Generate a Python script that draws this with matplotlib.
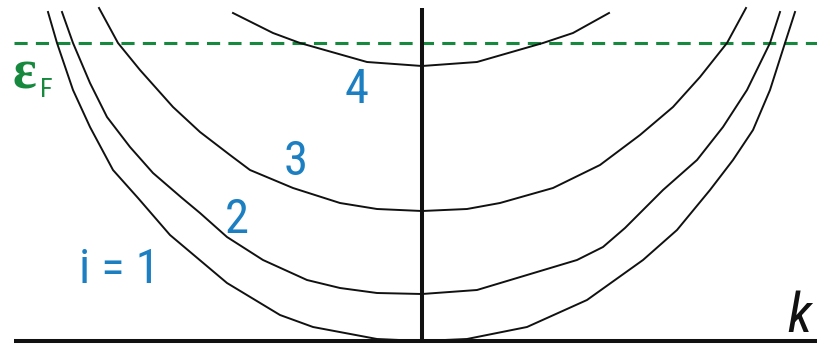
import matplotlib
matplotlib.use("Agg")
import matplotlib.pyplot as plt

# Subband dispersion sketch: energy E (arb. units) vs wave vector k (arb. units)
# values, k = 0 at the vertical axis

K_1 = [-374, -365, -349, -332, -309, -284, -252, -195, -142, -109, -45, 0,
       45, 105, 165, 221, 255, 288, 311, 331, 348, 363, 373]
E_1 = [329, 298, 251, 214, 171, 143, 106, 58, 26, 14, 2, 0,
       2, 14, 41, 81, 111, 151, 181, 211, 251, 298, 329]

K_2 = [-360, -349, -332, -315, -292, -269, -240, -222, -195, -159, -115, -82, -45, 0,
       55, 155, 181, 203, 241, 275, 301, 325, 348, 358]
E_2 = [329, 298, 258, 224, 194, 168, 143, 128, 104, 81, 61, 53, 48, 47,
       51, 81, 94, 113, 151, 181, 214, 251, 298, 329]

K_3 = [-323, -304, -282, -249, -222, -192, -172, -129, -82, -45, 0,
       45, 78, 131, 178, 218, 251, 278, 305, 324]
E_3 = [333, 298, 271, 234, 209, 186, 171, 153, 138, 132, 130,
       132, 138, 153, 176, 206, 234, 264, 298, 333]

K_4 = [-189, -149, -122, -55, 0, 55, 121, 151, 187]
E_4 = [328, 308, 298, 279, 275, 279, 298, 308, 328]

SUBBANDS = [(K_1, E_1), (K_2, E_2), (K_3, E_3), (K_4, E_4)]

E_FERMI = 298
SUBBAND_LABELS = ["i = 1", "2", "3", "4"]
LABEL_K = [-303, -185, -126, -65]
LABEL_E = [58, 108, 166, 238]

BLUE = "#1b7fc2"
GREEN = "#17893f"
NARROW = ["Roboto Condensed", "DejaVu Sans"]

fig = plt.figure(figsize=(8.17, 3.47), dpi=100)
ax = fig.add_axes([0, 0, 1, 1])
ax.set_xlim(-422, 395)
ax.set_ylim(-6, 341)
ax.axis("off")

# subband curves
for k, e in SUBBANDS:
    ax.plot(k, e, color="#111111", lw=1.4, solid_joinstyle="round", zorder=2)

# Fermi level
ax.plot([-408, 395], [E_FERMI, E_FERMI], color=GREEN, lw=2.2,
        dashes=(4.3, 2.7), zorder=1)

# axes
ax.plot([-408, 395], [0, 0], color="#111111", lw=2.9, solid_capstyle="butt", zorder=3)
ax.plot([0, 0], [0, 333], color="#111111", lw=2.9, solid_capstyle="butt", zorder=3)

# labels
for lab, kx, ey in zip(SUBBAND_LABELS, LABEL_K, LABEL_E):
    ax.text(kx, ey, lab, color=BLUE, fontsize=35, family=NARROW,
            ha="center", va="baseline")

ax.text(-409, 253, "ε", color=GREEN, fontsize=40, fontweight="bold",
        family=["Liberation Serif", "DejaVu Serif"], ha="left", va="baseline")
ax.text(-382, 244, "F", color=GREEN, fontsize=19, family=NARROW,
        ha="left", va="baseline")

ax.text(377, 9, "k", color="#111111", fontsize=40, family=NARROW,
        style="italic", ha="center", va="baseline")

fig.savefig("out.png", dpi=100)
